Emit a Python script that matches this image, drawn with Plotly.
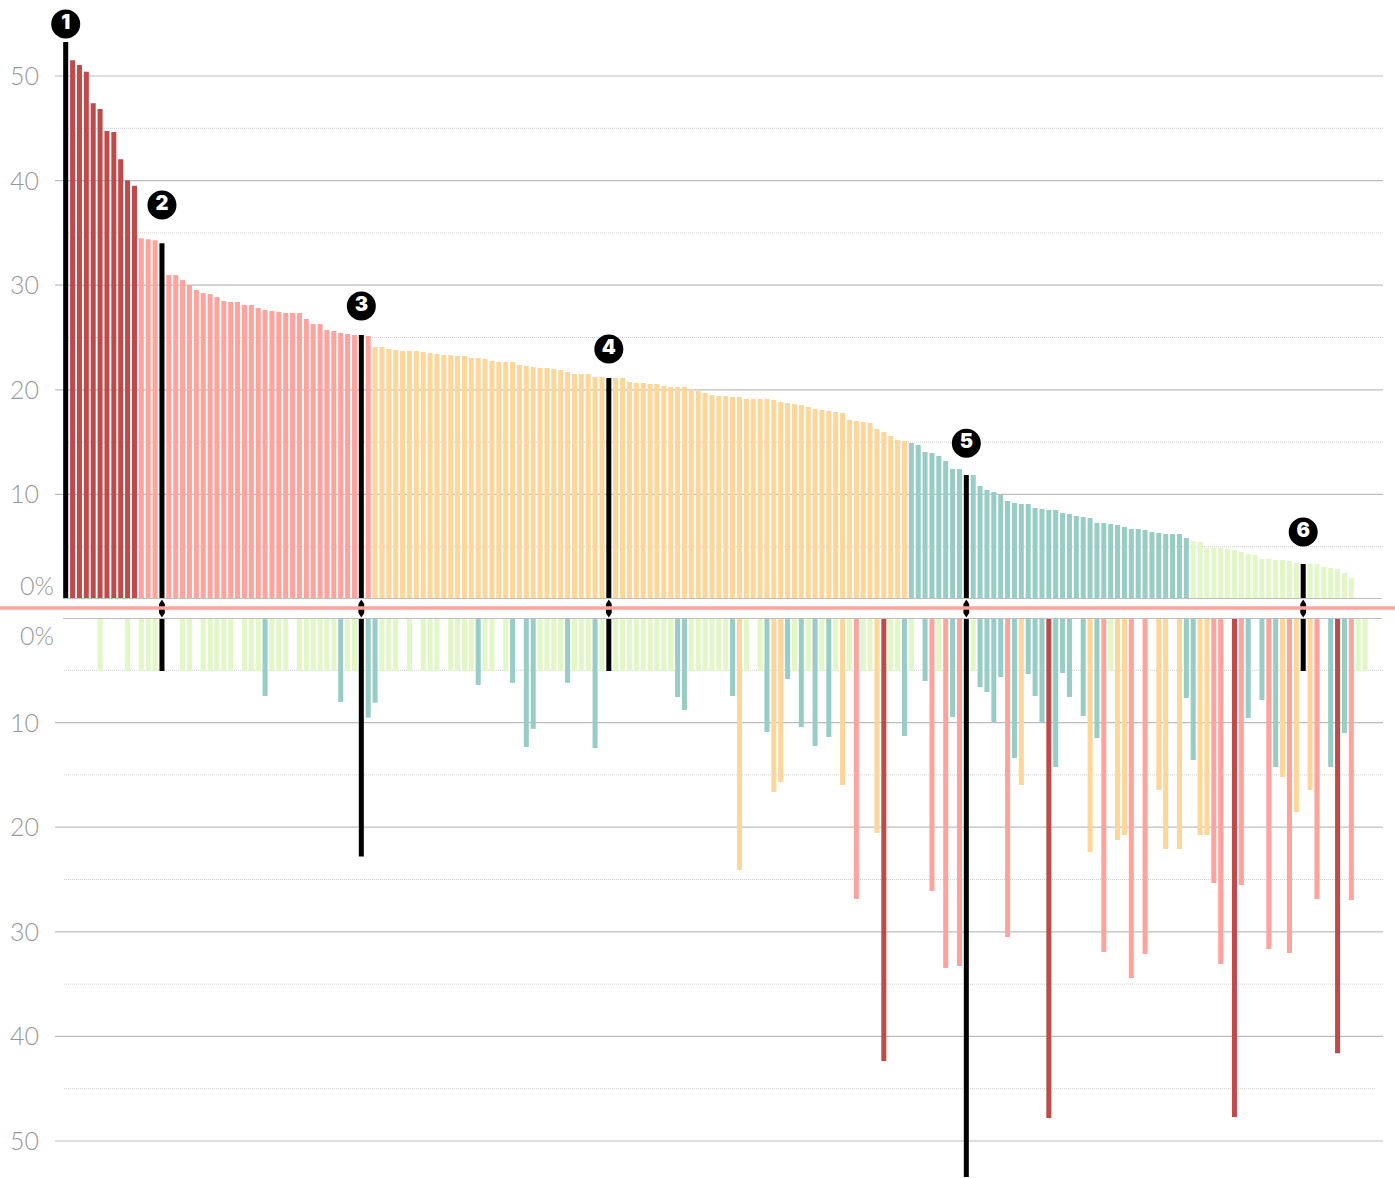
import plotly.graph_objects as go

L = 5.07  # the light bars in the lower panel all stop at the same level
top_values = [
    53.25, 51.5, 51.05, 50.4, 47.4, 46.85, 44.75, 44.65, 42.05, 40.0, 39.5,
    34.5, 34.4, 34.3, 34.0,
    30.97, 30.97, 30.5, 30.02, 29.54, 29.25, 29.16, 28.87, 28.49, 28.39, 28.39,
    28.11, 28.11, 27.82, 27.63, 27.53, 27.44, 27.34, 27.34, 27.34, 26.77, 26.29,
    26.29, 25.72, 25.62, 25.43, 25.33, 25.24, 25.24, 25.14,
    24.09, 24.09, 23.9, 23.8, 23.71, 23.71, 23.71, 23.61, 23.52, 23.42,
    23.33, 23.33, 23.23, 23.23, 23.04, 23.04, 22.94, 22.75, 22.66, 22.66,
    22.66, 22.37, 22.28, 22.18, 22.08, 22.08, 21.99, 21.89, 21.7, 21.51,
    21.51, 21.51, 21.22, 21.22, 21.13, 21.13, 21.13, 20.75, 20.65, 20.65,
    20.55, 20.55, 20.36, 20.27, 20.27, 20.27, 20.08, 19.89, 19.69, 19.5,
    19.41, 19.41, 19.31, 19.31, 19.12, 19.12, 19.12, 19.12, 19.02, 18.83,
    18.74, 18.64, 18.55, 18.36, 18.16, 18.07, 17.97, 17.88, 17.78, 17.11,
    17.02, 16.92, 16.83, 16.25, 15.97, 15.58, 15.2, 15.11,
    14.91, 14.72, 14.05, 13.96, 13.67, 13.19, 12.43, 12.43, 11.85, 11.85,
    10.8, 10.42, 10.23, 9.94, 9.37, 9.18, 9.08, 9.08, 8.7, 8.6, 8.51, 8.51,
    8.22, 8.13, 7.93, 7.84, 7.74, 7.27, 7.27, 7.17, 7.07, 6.88, 6.69, 6.69,
    6.6, 6.41, 6.31, 6.21, 6.21, 6.21, 5.83,
    5.54, 5.45, 4.88, 4.88, 4.88, 4.78, 4.68, 4.49, 4.3, 4.21, 3.82, 3.82,
    3.73, 3.73, 3.63, 3.44, 3.35, 3.35, 3.35, 3.06, 2.96, 2.87, 2.49, 2.01,
]
bottom_values = [
    0, 0, 0, 0, 0, L, 0, 0, 0, L,
    0, L, L, L, L, 0, 0, L, L, 0,
    L, L, L, L, L, 0, L, L, L, 7.46,
    L, L, L, 0, L, L, L, L, L, L,
    8.03, L, L, 22.8, 9.53, 8.1, L, L, L, 0,
    L, 0, L, L, L, 0, L, L, L, L,
    6.4, L, L, 0, L, 6.2, 0, 12.33, 10.6, L,
    L, L, L, 6.2, L, L, L, 12.43, L, L,
    L, L, L, L, L, L, L, L, L, 7.55,
    8.8, L, L, L, L, L, L, 7.46, 24.1, L,
    0, L, 10.9, 16.63, 15.68, 5.83, L, 10.42, L, 12.24,
    L, 11.38, L, 15.97, L, 26.86, L, L, 20.55, 42.35,
    L, L, 11.28, L, 0, 6.02, 26.1, L, 33.46, 9.46,
    33.27, 53.44, L, 6.6, 7.07, 9.94, 5.64, 30.5, 13.38, 15.97,
    5.35, 7.46, 10.0, 47.8, 14.24, 5.26, 7.55, 0, 9.37, 22.37,
    11.47, 31.93, L, 21.22, 20.75, 34.42, 0, 32.12, 0, 16.44,
    22.08, 0, 22.08, 7.65, 13.57, 20.75, 20.75, 25.33, 33.08, 0,
    47.7, 25.53, 9.56, 0, 7.84, 31.64, 14.24, 15.2, 32.03, 18.55,
    L, 16.44, 26.86, 0, 14.24, 41.6, 11.0, 26.96, L, L,
]
highlight = [0, 14, 43, 79, 131, 180]
connector_bars = [14, 43, 79, 131, 180]
badge_labels = ["1", "2", "3", "4", "5", "6"]
badge_values = [54.97, 37.67, 28.0, 23.9, 14.9, 6.41]
major_ticks = [10, 20, 30, 40, 50]
minor_ticks = [5, 15, 25, 35, 45]
tick_labels = ["10", "20", "30", "40", "50"]

W, H = 1395, 1178
PX_PER_BAR, X0 = 6.875, 65.7
PX_PER_UNIT = 10.46
TOP_BASE, BOTTOM_BASE = 599.0, 618.0
GREY, DOT, TICK_COLOR = "#bdbdbd", "#cfcfcf", "#989898"
DARK, PINK, ORANGE, TEAL, GREEN = "#bf4a4a", "#ffa39c", "#ffd699", "#97cdc5", "#e1f7c6"


def colours(values, green_below):
    out = []
    for i, v in enumerate(values):
        if i in highlight:
            out.append("#000000")
        elif v >= 35:
            out.append(DARK)
        elif v >= 25:
            out.append(PINK)
        elif v >= 15:
            out.append(ORANGE)
        elif v >= green_below:
            out.append(TEAL)
        else:
            out.append(GREEN)
    return out


def xd(px):
    return (px - X0) / PX_PER_BAR


def py(px):
    return 1 - px / H


fig = go.Figure()
fig.add_trace(go.Bar(x=list(range(len(top_values))), y=top_values, width=0.73,
                     marker=dict(color=colours(top_values, 5.7), line_width=0),
                     xaxis="x", yaxis="y", hoverinfo="skip"))
fig.add_trace(go.Bar(x=list(range(len(bottom_values))), y=bottom_values, width=0.73,
                     marker=dict(color=colours(bottom_values, 5.2), line_width=0),
                     xaxis="x", yaxis="y2", hoverinfo="skip"))
# numbered badges
fig.add_trace(go.Scatter(x=highlight, y=badge_values, mode="markers+text",
                         text=badge_labels, textposition="middle center",
                         textfont=dict(family="Inter, Lato, sans-serif", size=20, color="#ffffff", weight=900),
                         marker=dict(symbol="circle", size=29, color="#000000", line_width=0),
                         xaxis="x", yaxis="y", cliponaxis=False, hoverinfo="skip"))

shapes = []
for axis, ref in (("y", "y"), ("y2", "y2")):
    for v in major_ticks:
        shapes.append(dict(type="line", layer="below", xref="x", yref=ref,
                           x0=xd(55), x1=xd(1383), y0=v, y1=v,
                           line=dict(color=GREY, width=1.2)))
    for v in minor_ticks:
        right = 1375 if (axis == "y2" and v == 45) else 1383
        shapes.append(dict(type="line", layer="below", xref="x", yref=ref,
                           x0=xd(64), x1=xd(right), y0=v, y1=v,
                           line=dict(color=DOT, width=1, dash="1px,1px")))
for ref in ("y", "y2"):
    shapes.append(dict(type="line", layer="above", xref="x", yref=ref,
                       x0=xd(63), x1=xd(1382), y0=0, y1=0,
                       line=dict(color=GREY, width=2)))
# lens-shaped joins between the two panels, crossed by the pink divider
half = 2.9 / PX_PER_BAR
for i in connector_bars:
    pts = [(i, 599.5), (i + half, 604), (i + half, 613), (i, 617.5), (i - half, 613), (i - half, 604)]
    path = "M " + " L ".join(f"{a:.3f},{py(b):.5f}" for a, b in pts) + " Z"
    shapes.append(dict(type="path", layer="above", xref="x", yref="paper", path=path,
                       fillcolor="#000000", line_width=0))
shapes.append(dict(type="line", layer="above", xref="paper", yref="paper",
                   x0=0, x1=1, y0=py(608), y1=py(608),
                   line=dict(color=PINK, width=3.5)))

annotations = []
TICK_FONT = dict(family="Lato, sans-serif", size=25, color=TICK_COLOR, weight=300)
for v, label in zip(major_ticks, tick_labels):
    for ref in ("y", "y2"):
        annotations.append(dict(text=label, x=8 / W, xref="paper", xanchor="left",
                                y=v + 0.1 if ref == "y" else v - 0.1, yref=ref, yanchor="middle",
                                showarrow=False, font=TICK_FONT))
annotations.append(dict(text="0%", x=18 / W, xref="paper", xanchor="left",
                        y=1.3, yref="y", yanchor="middle", showarrow=False, font=TICK_FONT))
annotations.append(dict(text="0%", x=18 / W, xref="paper", xanchor="left",
                        y=1.6, yref="y2", yanchor="middle", showarrow=False, font=TICK_FONT))

fig.update_layout(
    width=W, height=H, autosize=False, showlegend=False, barmode="overlay",
    margin=dict(l=0, r=0, t=0, b=0), paper_bgcolor="#ffffff", plot_bgcolor="#ffffff",
    xaxis=dict(domain=[0, 1], range=[xd(0), xd(W)], visible=False, fixedrange=True),
    yaxis=dict(domain=[1 - TOP_BASE / H, 1], range=[0, TOP_BASE / PX_PER_UNIT],
               visible=False, anchor="x", fixedrange=True),
    yaxis2=dict(domain=[0, 1 - BOTTOM_BASE / H], range=[(H - BOTTOM_BASE) / PX_PER_UNIT, 0],
                visible=False, anchor="x", fixedrange=True),
    shapes=shapes, annotations=annotations,
)
fig.write_html("out.html", config={"displayModeBar": False},
               post_script="document.body.style.margin='0';document.documentElement.style.overflow='hidden';")
